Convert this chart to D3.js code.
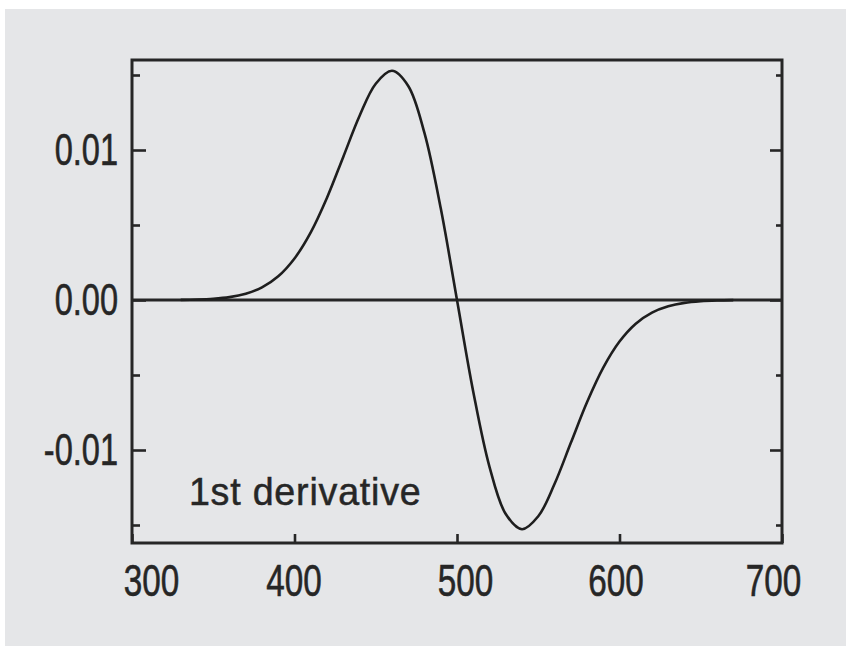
<!DOCTYPE html>
<html>
<head>
<meta charset="utf-8">
<script src="https://cdn.jsdelivr.net/npm/d3@7"></script>
<style>
  html, body { margin: 0; padding: 0; background: #ffffff; }
  svg { display: block; }
</style>
</head>
<body>
<svg id="chart" width="846" height="646"></svg>
<script>
// ---- data ----
const wavelengths = [330, 340, 350, 360, 370, 380, 390, 400, 410, 420, 430, 440, 450, 460, 470, 480, 490, 500,
                     510, 520, 530, 540, 550, 560, 570, 580, 590, 600, 610, 620, 630, 640, 650, 660, 670];
const derivative = [0.00001, 0.00003, 0.00008, 0.00019, 0.00042, 0.00084, 0.00158, 0.00277, 0.00451, 0.00682,
                    0.00954, 0.01227, 0.01442, 0.01528, 0.01427, 0.01112, 0.00611, 0.0,
                    -0.00611, -0.01112, -0.01427, -0.01528, -0.01442, -0.01227, -0.00954, -0.00682,
                    -0.00451, -0.00277, -0.00158, -0.00084, -0.00042, -0.00019, -0.00008, -0.00003, -0.00001];
const xTickValues = [300, 400, 500, 600, 700];
const yTickValues = [-0.01, 0, 0.01];
const yMinorTicks = [-0.015, -0.005, 0.005, 0.015];
const xDomain = [300, 700];
const yDomain = [-0.0162, 0.016];
const annotation = "1st derivative";

(function () {
  // ---- layout ----
  const svg = d3.select("#chart");
  const W = 846, H = 646;
  const mLeft = 132, mRight = 782, mTop = 60, mBottom = 543;
  const ink = "#262626";
  const sx = 0.74; // horizontal condensing of label font
  const font = "'Liberation Sans', Arial, sans-serif";
  // small horizontal offsets of the x tick labels, as placed in the original figure
  const xLabelNudge = {300: 19, 400: -1, 500: 8, 600: -4, 700: -9};
  const fmtY = v => d3.format(".2f")(v).replace("\u2212", "-");

  svg.append("rect").attr("x", 5).attr("y", 9).attr("width", W - 5).attr("height", H - 9).attr("fill", "#e5e6e8");

  const x = d3.scaleLinear().domain(xDomain).range([mLeft, mRight]);
  const y = d3.scaleLinear().domain(yDomain).range([mBottom, mTop]);

  svg.append("defs").append("clipPath").attr("id", "clip")
    .append("rect").attr("x", mLeft).attr("y", mTop).attr("width", mRight - mLeft).attr("height", mBottom - mTop);

  function styleAxis(g) {
    g.select(".domain").remove();
    g.selectAll(".tick line").attr("stroke", ink).attr("stroke-width", 2.6);
  }

  // bottom axis
  const gx = svg.append("g").attr("transform", `translate(0,${mBottom})`)
    .call(d3.axisBottom(x).tickValues(xTickValues).tickFormat(d3.format("d")).tickSizeInner(-9).tickSizeOuter(0).tickPadding(21));
  styleAxis(gx);
  gx.selectAll(".tick text")
    .attr("fill", ink).attr("stroke", ink).attr("stroke-width", 0.6)
    .attr("font-family", font).attr("font-size", 45)
    .attr("x", d => (xLabelNudge[d] || 0) / sx)
    .attr("transform", `scale(${sx},1)`);

  // left axis (major)
  const gy = svg.append("g").attr("transform", `translate(${mLeft},0)`)
    .call(d3.axisLeft(y).tickValues(yTickValues).tickFormat(fmtY).tickSizeInner(-14).tickSizeOuter(0).tickPadding(15));
  styleAxis(gy);
  gy.selectAll(".tick text")
    .attr("fill", ink).attr("stroke", ink).attr("stroke-width", 0.6)
    .attr("font-family", font).attr("font-size", 44)
    .attr("x", -14 / sx).attr("transform", `scale(${sx},1)`);

  // left axis (minor)
  const gyMinor = svg.append("g").attr("transform", `translate(${mLeft},0)`)
    .call(d3.axisLeft(y).tickValues(yMinorTicks).tickFormat("").tickSizeInner(-8).tickSizeOuter(0));
  styleAxis(gyMinor);

  // right axis (major / minor)
  const gr = svg.append("g").attr("transform", `translate(${mRight},0)`)
    .call(d3.axisRight(y).tickValues(yTickValues).tickFormat("").tickSizeInner(-12).tickSizeOuter(0));
  styleAxis(gr);
  const grMinor = svg.append("g").attr("transform", `translate(${mRight},0)`)
    .call(d3.axisRight(y).tickValues(yMinorTicks).tickFormat("").tickSizeInner(-6).tickSizeOuter(0));
  styleAxis(grMinor);

  // zero line
  svg.append("line")
    .attr("x1", mLeft).attr("x2", mRight).attr("y1", y(0)).attr("y2", y(0))
    .attr("stroke", ink).attr("stroke-width", 2.8);

  // curve
  const pts = wavelengths.map((w, i) => [w, derivative[i]]);
  svg.append("path")
    .datum(pts)
    .attr("clip-path", "url(#clip)")
    .attr("fill", "none")
    .attr("stroke", "#1e1e1e")
    .attr("stroke-width", 2.6)
    .attr("d", d3.line().x(d => x(d[0])).y(d => y(d[1])).curve(d3.curveCatmullRom));

  // frame
  svg.append("rect")
    .attr("x", mLeft).attr("y", mTop).attr("width", mRight - mLeft).attr("height", mBottom - mTop)
    .attr("fill", "none").attr("stroke", ink).attr("stroke-width", 3);

  // annotation
  svg.append("text")
    .attr("transform", `translate(${x(335)},${y(-0.01367)}) scale(0.99,1)`)
    .attr("fill", ink).attr("stroke", ink).attr("stroke-width", 0.5)
    .attr("font-family", font)
    .attr("font-size", 38)
    .attr("letter-spacing", 0.8)
    .text(annotation);
})();
</script>
</body>
</html>
